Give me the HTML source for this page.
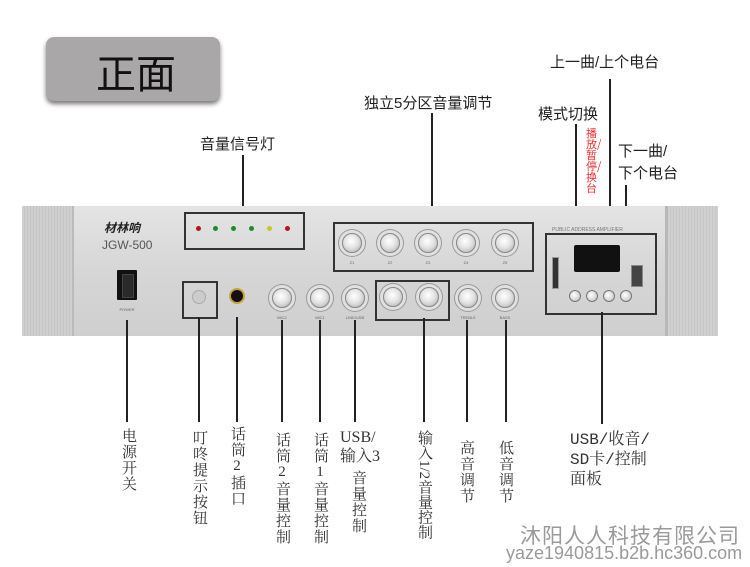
<!DOCTYPE html>
<html><head><meta charset="utf-8"><style>
body{margin:0;width:750px;height:567px;background:#fff;position:relative;overflow:hidden;font-family:"Liberation Sans","Noto Sans CJK SC",sans-serif;color:#333}
.a{position:absolute}
.ln{position:absolute;width:2px;background:#222}
.v{position:absolute;writing-mode:vertical-rl;text-orientation:upright;white-space:nowrap;font-family:"Liberation Serif","Noto Serif CJK SC",serif;font-size:15px;line-height:16px;letter-spacing:1px;color:#333;transform:translateX(-50%)}
.lbl{position:absolute;font-size:15px;color:#222;white-space:nowrap}
.knob{position:absolute;width:18px;height:18px;border-radius:50%;background:radial-gradient(circle at 45% 40%,#fff 0,#e4e4e4 45%,#a8a8a8 100%);border:1px solid #888;box-shadow:0 0 0 3px #e0e0e0,0 0 0 4px #999;transform:translate(-50%,-50%)}
.box{position:absolute;border:2px solid #333}
.led{position:absolute;width:5px;height:5px;border-radius:50%;top:226px}
.sm{position:absolute;font-size:4px;color:#666;transform:translateX(-50%)}
.btn{position:absolute;width:10px;height:10px;border-radius:50%;background:radial-gradient(circle at 40% 40%,#fff,#bbb);border:1px solid #777;transform:translate(-50%,-50%)}
</style></head><body>
<div class="a" style="left:46px;top:37px;width:174px;height:64px;border-radius:8px;background:#a9a7a8;box-shadow:0 3px 5px #777"></div>
<div class="a" style="left:96px;top:46px;font-size:40px;color:#111;font-family:'Noto Sans CJK SC',sans-serif;line-height:50px">正面</div>

<div class="lbl" style="left:200px;top:133px">音量信号灯</div>
<div class="ln" style="left:242px;top:155px;height:57px"></div>
<div class="lbl" style="left:364px;top:92px">独立5分区音量调节</div>
<div class="ln" style="left:431px;top:113px;height:110px"></div>
<div class="lbl" style="left:550px;top:51px">上一曲/上个电台</div>
<div class="ln" style="left:609px;top:79px;height:183px"></div>
<div class="lbl" style="left:538px;top:103px">模式切换</div>
<div class="ln" style="left:575px;top:124px;height:168px"></div>
<div class="a" style="left:586px;top:128px;width:14px;font-size:11px;line-height:11px;color:#e83030;font-family:'Noto Sans CJK SC',sans-serif">播放/暂停/换台</div>
<div class="ln" style="left:592px;top:208px;height:84px"></div>
<div class="lbl" style="left:618px;top:141px;line-height:22px">下一曲/<br>下个电台</div>
<div class="ln" style="left:625px;top:185px;height:107px"></div>

<div class="a" style="left:22px;top:206px;width:694px;height:130px;background:linear-gradient(#e4e4e4,#d6d6d6 50%,#cfcfcf);border-radius:3px"></div>
<div class="a" style="left:22px;top:206px;width:50px;height:130px;background:repeating-linear-gradient(90deg,#d0d0d0 0 2px,#c4c4c4 2px 3px);border-right:2px solid #bbb"></div>
<div class="a" style="left:665px;top:206px;width:50px;height:130px;background:repeating-linear-gradient(90deg,#d0d0d0 0 2px,#c6c6c6 2px 3px);border-left:3px solid #b8b8b8"></div>
<div class="a" style="left:104px;top:219px;font-size:12px;font-weight:bold;color:#222;font-style:italic">材林响</div>
<div class="a" style="left:102px;top:238px;font-size:12px;color:#555">JGW-500</div>
<div class="a" style="left:117px;top:270px;width:20px;height:30px;background:#111;border-radius:1px"></div>
<div class="a" style="left:122px;top:274px;width:10px;height:22px;background:#2a2a2a;border:1px solid #444"></div>
<div class="sm" style="left:127px;top:307px">POWER</div>

<div class="box" style="left:184px;top:212px;width:117px;height:34px"></div>
<div class="led" style="left:196px;background:#b01818"></div>
<div class="led" style="left:213px;background:#1f8a2a"></div>
<div class="led" style="left:231px;background:#1f8a2a"></div>
<div class="led" style="left:249px;background:#1f8a2a"></div>
<div class="led" style="left:267px;background:#c8c820"></div>
<div class="led" style="left:285px;background:#b01818"></div>

<div class="box" style="left:333px;top:222px;width:197px;height:46px"></div>
<div class="knob" style="left:352px;top:243px"></div>
<div class="knob" style="left:390px;top:243px"></div>
<div class="knob" style="left:428px;top:243px"></div>
<div class="knob" style="left:466px;top:243px"></div>
<div class="knob" style="left:505px;top:243px"></div>
<div class="sm" style="left:352px;top:260px">Z1</div><div class="sm" style="left:390px;top:260px">Z2</div><div class="sm" style="left:428px;top:260px">Z3</div><div class="sm" style="left:466px;top:260px">Z4</div><div class="sm" style="left:505px;top:260px">Z5</div>

<div class="box" style="left:182px;top:281px;width:32px;height:34px"></div>
<div class="a" style="left:192px;top:290px;width:12px;height:12px;border-radius:50%;background:#ccc;border:1px solid #aaa"></div>
<div class="a" style="left:229px;top:288px;width:12px;height:12px;border-radius:50%;background:#111;border:2px solid #c9a23a"></div>
<div class="knob" style="left:282px;top:298px"></div>
<div class="knob" style="left:320px;top:298px"></div>
<div class="knob" style="left:355px;top:298px"></div>
<div class="box" style="left:375px;top:280px;width:71px;height:37px"></div>
<div class="knob" style="left:393px;top:297px"></div>
<div class="knob" style="left:429px;top:297px"></div>
<div class="knob" style="left:468px;top:298px"></div>
<div class="knob" style="left:505px;top:298px"></div>
<div class="sm" style="left:282px;top:315px">MIC2</div><div class="sm" style="left:320px;top:315px">MIC1</div><div class="sm" style="left:355px;top:315px">LINE/USB</div><div class="sm" style="left:468px;top:315px">TREBLE</div><div class="sm" style="left:505px;top:315px">BASS</div>

<div class="a" style="left:552px;top:227px;font-size:5px;color:#777">PUBLIC ADDRESS AMPLIFIER</div>
<div class="box" style="left:545px;top:233px;width:108px;height:78px"></div>
<div class="a" style="left:552px;top:257px;width:5px;height:30px;background:#333;border:1px solid #999"></div>
<div class="a" style="left:574px;top:245px;width:46px;height:27px;background:#111;border-radius:2px"></div>
<div class="a" style="left:631px;top:265px;width:10px;height:20px;background:#444;border:1px solid #888"></div>
<div class="btn" style="left:575px;top:296px"></div>
<div class="btn" style="left:592px;top:296px"></div>
<div class="btn" style="left:609px;top:296px"></div>
<div class="btn" style="left:626px;top:296px"></div>

<div class="ln" style="left:126px;top:320px;height:102px"></div>
<div class="ln" style="left:198px;top:317px;height:105px"></div>
<div class="ln" style="left:236px;top:317px;height:105px"></div>
<div class="ln" style="left:281px;top:320px;height:102px"></div>
<div class="ln" style="left:319px;top:320px;height:102px"></div>
<div class="ln" style="left:354px;top:320px;height:102px"></div>
<div class="ln" style="left:423px;top:318px;height:104px"></div>
<div class="ln" style="left:466px;top:320px;height:102px"></div>
<div class="ln" style="left:505px;top:320px;height:102px"></div>
<div class="ln" style="left:601px;top:312px;height:112px"></div>

<div class="v" style="left:128px;top:428px">电源开关</div>
<div class="v" style="left:199px;top:430px">叮咚提示按钮</div>
<div class="v" style="left:237px;top:426px">话筒2插口</div>
<div class="v" style="left:282px;top:432px">话筒2音量控制</div>
<div class="v" style="left:320px;top:432px">话筒1音量控制</div>
<div class="a" style="left:340px;top:428px;font-family:'Liberation Serif','Noto Serif CJK SC',serif;font-size:16px;line-height:19px;color:#333">USB/<br>输入3</div>
<div class="v" style="left:358px;top:470px">音量控制</div>
<div class="v" style="left:424px;top:430px;letter-spacing:0">输入<span style="text-orientation:sideways">1/2</span>音量控制</div>
<div class="v" style="left:466px;top:440px">高音调节</div>
<div class="v" style="left:505px;top:440px">低音调节</div>
<div class="a" style="left:570px;top:430px;font-family:'Liberation Mono','Noto Serif CJK SC',monospace;font-size:16px;line-height:20px;color:#333">USB/收音/<br>SD卡/控制<br>面板</div>

<div class="a" style="left:520px;top:520px;font-size:21px;color:#9a9a9a;letter-spacing:1px">沐阳人人科技有限公司</div>
<div class="a" style="left:506px;top:543px;font-size:18px;color:#9a9a9a">yaze1940815.b2b.hc360.com</div>
</body></html>
